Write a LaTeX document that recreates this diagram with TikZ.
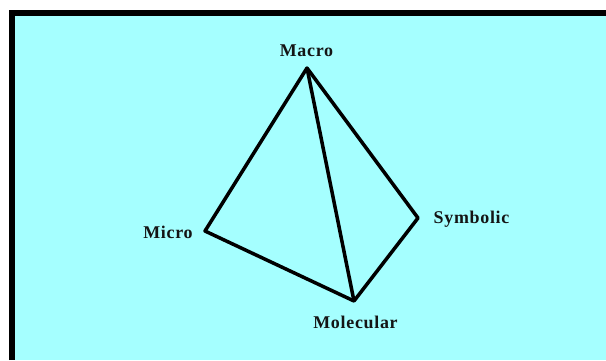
\documentclass[tikz,border=0pt]{standalone}
\usepackage{fontspec}
\setmainfont{Liberation Serif}[LetterSpace=4]
\usepackage{xcolor}
\definecolor{panelcyan}{RGB}{165,255,255}
\begin{document}
\begin{tikzpicture}[x=0.02cm, y=-0.02cm, label/.style={font=\bfseries\fontsize{10.2pt}{11pt}\selectfont, inner sep=0pt, text=black!92}, edge/.style={line width=2pt, line join=round}]
  \useasboundingbox (0,0) rectangle (606,360);
  \fill[panelcyan] (9,10) rectangle (606,360);
  \draw[line width=3.4pt, line join=miter] (12,360) -- (12,13.2) -- (606,13.2);

  \coordinate (macro) at (307,68);
  \coordinate (micro) at (205,231);
  \coordinate (molecular) at (354,301);
  \coordinate (symbolic) at (418,218);

  \draw[edge] (micro) -- (macro) -- (symbolic) -- (molecular) -- cycle;
  \draw[edge] (macro) -- (molecular);

  \node[label] (macrolabel) at (306.5,51) {Macro};
  \node[label] (microlabel) at (168,232) {Micro};
  \node[label] (symboliclabel) at (471.5,219) {Symbolic};
  \node[label] (molecularlabel) at (355.5,322) {Molecular};
\end{tikzpicture}
\end{document}
